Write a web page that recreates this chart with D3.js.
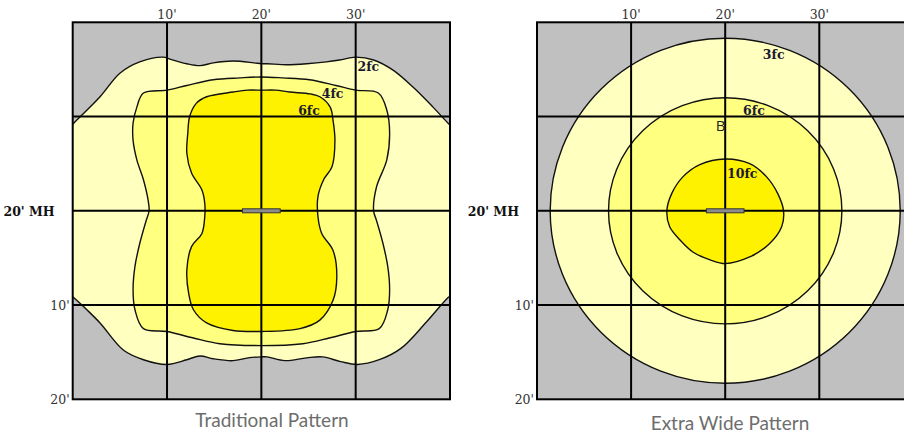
<!DOCTYPE html>
<body style="margin:0;background:#fff">
<svg width="904" height="435"></svg>
</body>
<script src="https://d3js.org/d3.v7.min.js"></script>
<script>

// grid ticks (feet)
var xTicks = [10, 20, 30];
var yTicks = [10, 20];
var xGrid = [10, 20, 30];
var yGrid = [-10, 0, 10];

// traditional pattern contours, [x ft, y ft from fixture]
var trad2fc = [[-1,-8.2],[0.1,-9.3],[2.9,-12.1],[5.0,-14.6],[7.1,-15.8],[9.6,-16.3],[10.3,-16.1],[12.1,-15.6],
  [13.5,-15.4],[14.9,-15.7],[17.0,-15.9],[19.2,-15.7],[20,-15.6],[20.6,-15.6],[22.7,-15.5],[24.8,-15.6],
  [26.9,-15.8],[28.3,-16.0],[30,-16.3],[31.9,-16.0],[34,-14.9],[36.1,-13.1],[38.2,-11.0],[39.8,-9.3],[41,-8.2],
  [41,8.2],[39.8,9.2],[37.5,11.8],[34.8,14.6],[32.5,15.8],[30.2,16.3],[28.4,16.0],[26.5,15.5],[24.8,15.6],
  [22.5,15.9],[20.6,15.5],[20,15.5],[18.6,15.6],[17.0,15.9],[14.9,15.7],[13.5,15.4],[12.1,15.8],[10.0,16.3],
  [7.5,15.8],[5.4,14.8],[2.9,11.9],[1.5,10.5],[0.1,9.2],[-1,8.2]];
var trad4fc = [[7.5,-12.5],[10.0,-12.8],[12.1,-13.3],[14.9,-13.9],[17.7,-14.1],[20,-14.2],[22.3,-14.1],
  [25.1,-13.9],[27.9,-13.3],[30,-12.8],[32.4,-12.5],[33.3,-10.7],[33.6,-8.2],[33.3,-5.4],[32.2,-2.5],
  [31.9,0],[32.2,1.0],[32.9,3.5],[33.4,5.9],[33.6,8.4],[33.4,10.5],[32.5,12.5],[30,12.8],[27.2,13.5],
  [24.4,14.1],[20,14.3],[15.6,14.1],[12.8,13.5],[10,12.8],[7.5,12.5],[6.6,10.5],[6.4,8.4],[6.6,5.9],
  [7.1,3.5],[7.8,1.0],[8.1,0],[8.0,-1.1],[7.5,-3.3],[6.8,-5.4],[6.4,-7.5],[6.4,-9.3],[6.8,-11.0]];
var trad6fc = [[18.5,-12.8],[20,-12.8],[21.5,-12.8],[23.0,-12.6],[25.2,-12.4],[26.2,-12.1],[27.3,-11.0],
  [27.6,-9.6],[27.8,-7.5],[27.5,-4.7],[26.6,-3.3],[26.0,-1.5],[26.0,0.6],[26.4,2.4],[27.6,4.2],[28,7.0],
  [27.6,9.5],[26.2,11.6],[24.1,12.5],[20,12.8],[17.0,12.7],[14.2,11.9],[12.8,10.5],[12.3,8.8],[12.1,6.3],
  [12.6,3.8],[13.7,2.4],[14.0,0.6],[14.0,-0.8],[13.7,-2.2],[12.6,-4.0],[12.1,-6.1],[12.2,-8.2],[12.4,-10.0],
  [13.1,-11.4],[14.2,-12.1],[17.0,-12.6]];

// extra wide pattern: rings [rx, ry] in feet around the fixture, and the 10fc blob
var wideRings = [[18.6, 18.3], [12.4, 12.0]];
var wide10fc = [[20,-5.5],[22.6,-5.0],[24.4,-3.6],[25.6,-1.8],[26.2,0],[26.0,1.7],[24.7,3.5],[22.6,4.9],
  [20,5.6],[18.4,5.2],[16.6,4.4],[15.2,3.1],[14.1,1.7],[13.8,0],[14.3,-1.8],[15.5,-3.6],[17.3,-4.9]];

var fcLabelsTrad = [["2fc", 30.2, -14.8], ["4fc", 26.4, -12.0], ["6fc", 23.9, -10.2]];
var fcLabelsWide = [["3fc", 24.0, -16.1], ["6fc", 21.9, -10.2], ["10fc", 20.2, -3.5]];

var fills = ["#ffffc0", "#ffff80", "#fff200"];

var svg = d3.select("svg");

function panel(x0, x1, id) {
  var x = d3.scaleLinear().domain([0, 40]).range([x0, x1]);
  var y = d3.scaleLinear().domain([-20, 20]).range([22.3, 399.3]);
  var g = svg.append("g");
  svg.append("clipPath").attr("id", id).append("rect")
      .attr("x", x0).attr("y", y(-20)).attr("width", x1 - x0).attr("height", y(20) - y(-20));
  g.append("rect")
      .attr("x", x0).attr("y", y(-20)).attr("width", x1 - x0).attr("height", y(20) - y(-20))
      .attr("fill", "#c0c0c0");
  var body = g.append("g").attr("clip-path", "url(#" + id + ")");
  return {x: x, y: y, g: g, body: body};
}

function grid(p) {
  var g = p.g;
  g.selectAll(null).data(xGrid).enter().append("line")
      .attr("x1", d => p.x(d)).attr("x2", d => p.x(d))
      .attr("y1", p.y(-20)).attr("y2", p.y(20))
      .attr("stroke", "#000").attr("stroke-width", 2);
  g.selectAll(null).data(yGrid).enter().append("line")
      .attr("x1", p.x(0)).attr("x2", p.x(40))
      .attr("y1", d => p.y(d)).attr("y2", d => p.y(d))
      .attr("stroke", "#000").attr("stroke-width", 2);
  g.append("rect")
      .attr("x", p.x(0)).attr("y", p.y(-20))
      .attr("width", p.x(40) - p.x(0)).attr("height", p.y(20) - p.y(-20))
      .attr("fill", "none").attr("stroke", "#000").attr("stroke-width", 2);
  // fixture
  g.append("rect")
      .attr("x", p.x(18)).attr("y", p.y(0) - 2)
      .attr("width", p.x(22) - p.x(18)).attr("height", 4)
      .attr("fill", "#8c8c8c").attr("stroke", "#333").attr("stroke-width", 1);
  // axis labels
  g.selectAll(null).data(xTicks).enter().append("text")
      .attr("x", d => p.x(d)).attr("y", 19)
      .attr("text-anchor", "middle")
      .attr("font-family", "DejaVu Serif").attr("font-size", 12.5).attr("fill", "#333")
      .text(d => d + "'");
  g.selectAll(null).data(yTicks).enter().append("text")
      .attr("x", p.x(0) - 3).attr("y", d => p.y(d) + 5)
      .attr("text-anchor", "end")
      .attr("font-family", "DejaVu Serif").attr("font-size", 12.5).attr("fill", "#333")
      .text(d => d + "'");
  g.append("text")
      .attr("x", p.x(0) - 18).attr("y", p.y(0) + 5)
      .attr("text-anchor", "end")
      .attr("font-family", "DejaVu Serif").attr("font-weight", "bold").attr("font-size", 12.5)
      .attr("fill", "#111")
      .text("20' MH");
}

function fcLabels(p, data) {
  p.g.selectAll(null).data(data).enter().append("text")
      .attr("x", d => p.x(d[1])).attr("y", d => p.y(d[2]))
      .attr("font-family", "DejaVu Serif").attr("font-weight", "bold").attr("font-size", 12.5)
      .attr("fill", "#1a1a33")
      .text(d => d[0]);
}

// traditional
var L = panel(72.7, 450, "clipL");
var line = d3.line().curve(d3.curveCatmullRomClosed.alpha(0.5));
[trad2fc, trad4fc, trad6fc].forEach(function(c, i) {
  L.body.append("path")
      .attr("d", line(c.map(d => [L.x(d[0]), L.y(d[1])])))
      .attr("fill", fills[i]).attr("stroke", "#111").attr("stroke-width", 1.4);
});
grid(L);
fcLabels(L, fcLabelsTrad);

// extra wide
var R = panel(537, 913.4, "clipR");
wideRings.forEach(function(r, i) {
  R.body.append("ellipse")
      .attr("cx", R.x(20)).attr("cy", R.y(0))
      .attr("rx", R.x(20 + r[0]) - R.x(20)).attr("ry", R.y(r[1]) - R.y(0))
      .attr("fill", fills[i]).attr("stroke", "#111").attr("stroke-width", 1.4);
});
R.body.append("path")
    .attr("d", line(wide10fc.map(d => [R.x(d[0]), R.y(d[1])])))
    .attr("fill", fills[2]).attr("stroke", "#111").attr("stroke-width", 1.4);
grid(R);
fcLabels(R, fcLabelsWide);
R.g.append("text")
    .attr("x", R.x(19.0)).attr("y", R.y(-8.5))
    .attr("font-family", "Open Sans").attr("font-size", 15).attr("fill", "#222")
    .text("B");

// captions
svg.append("text").attr("x", 272).attr("y", 426.5).attr("text-anchor", "middle")
    .attr("font-family", "Lato").attr("font-size", 19).attr("fill", "#6d6d6d")
    .text("Traditional Pattern");
svg.append("text").attr("x", 730).attr("y", 430).attr("text-anchor", "middle")
    .attr("font-family", "Lato").attr("font-size", 19).attr("fill", "#6d6d6d")
    .text("Extra Wide Pattern");

</script>
